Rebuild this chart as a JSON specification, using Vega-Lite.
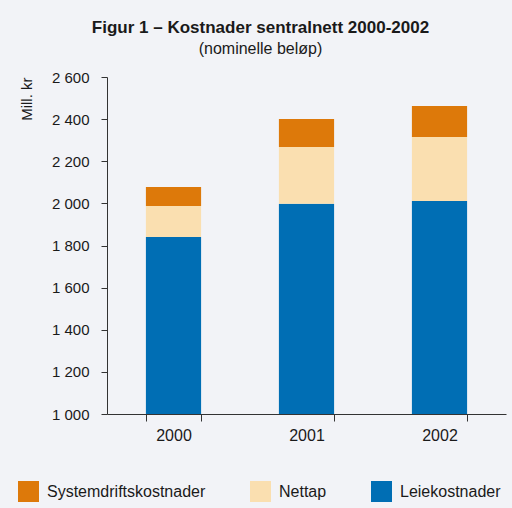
{
  "$schema": "https://vega.github.io/schema/vega-lite/v6.json",
  "width": 399,
  "height": 337,
  "autosize": {"type": "none"},
  "padding": {"left": 107, "top": 77, "right": 6, "bottom": 94},
  "background": "#F2F3F7",
  "title": {
    "text": "Figur 1 – Kostnader sentralnett 2000-2002",
    "subtitle": "(nominelle beløp)",
    "anchor": "middle",
    "dx": -46,
    "offset": 12,
    "font": "Liberation Sans",
    "fontSize": 17,
    "fontWeight": "bold",
    "color": "#1a1a1a",
    "subtitleFont": "Liberation Sans",
    "subtitleFontSize": 16,
    "subtitleColor": "#1a1a1a",
    "subtitlePadding": 4
  },
  "config": {
    "view": {"stroke": null},
    "font": "Liberation Sans"
  },
  "data": {
    "values": [
      {"aar": "2000", "kategori": "Leiekostnader", "verdi": 1840},
      {"aar": "2000", "kategori": "Nettap", "verdi": 148},
      {"aar": "2000", "kategori": "Systemdriftskostnader", "verdi": 90},
      {"aar": "2001", "kategori": "Leiekostnader", "verdi": 1998},
      {"aar": "2001", "kategori": "Nettap", "verdi": 270},
      {"aar": "2001", "kategori": "Systemdriftskostnader", "verdi": 133},
      {"aar": "2002", "kategori": "Leiekostnader", "verdi": 2011},
      {"aar": "2002", "kategori": "Nettap", "verdi": 304},
      {"aar": "2002", "kategori": "Systemdriftskostnader", "verdi": 147}
    ]
  },
  "mark": {"type": "bar", "clip": true},
  "encoding": {
    "x": {
      "field": "aar",
      "type": "nominal",
      "scale": {"paddingInner": 0.585, "paddingOuter": 0.2925},
      "axis": {
        "title": null,
        "labelAngle": 0,
        "labelFontSize": 16,
        "labelColor": "#1a1a1a",
        "labelPadding": 6,
        "tickBand": "extent",
        "tickSize": 7,
        "tickColor": "#333",
        "domainColor": "#333",
        "ticks": true
      }
    },
    "y": {
      "field": "verdi",
      "type": "quantitative",
      "stack": "zero",
      "scale": {"domain": [1000, 2600], "nice": false, "zero": false},
      "axis": {
        "title": "Mill. kr",
        "titleFontSize": 15,
        "titleFontWeight": "normal",
        "titleColor": "#1a1a1a",
        "titleAnchor": "end",
        "titlePadding": 17,
        "values": [1000, 1200, 1400, 1600, 1800, 2000, 2200, 2400, 2600],
        "labelExpr": "replace(format(datum.value, ','), ',', ' ')",
        "labelFontSize": 15,
        "labelColor": "#1a1a1a",
        "labelPadding": 12,
        "tickSize": 6,
        "tickColor": "#333",
        "domainColor": "#333",
        "grid": false
      }
    },
    "color": {
      "field": "kategori",
      "type": "nominal",
      "scale": {
        "domain": ["Systemdriftskostnader", "Nettap", "Leiekostnader"],
        "range": ["#DD790A", "#FADFB0", "#006EB4"]
      },
      "legend": {
        "title": null,
        "orient": "none",
        "legendX": -89,
        "legendY": 404,
        "direction": "horizontal",
        "symbolType": "square",
        "symbolSize": 441,
        "symbolStrokeWidth": 0,
        "symbolOpacity": 1,
        "labelFontSize": 16,
        "labelColor": "#1a1a1a",
        "labelOffset": 8,
        "labelLimit": 300,
        "columnPadding": 44
      }
    },
    "order": {"field": "kategori", "sort": "ascending"}
  }
}
